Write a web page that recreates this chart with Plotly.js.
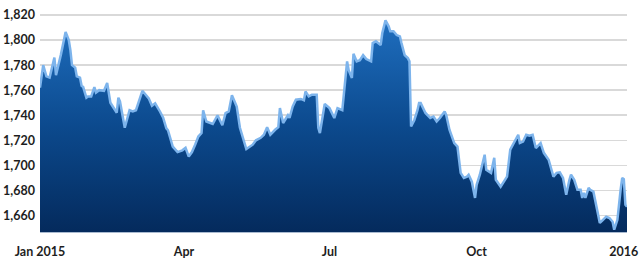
<!DOCTYPE html>
<html>
<head>
<meta charset="utf-8">
<script src="https://cdn.plot.ly/plotly-3.0.1.min.js"></script>
<style>html,body{margin:0;padding:0;background:#fff;}#chart{width:640px;height:264px;}</style>
</head>
<body>
<div id="chart"></div>
<script>
const dates = [
"2015-01-01","2015-01-03","2015-01-05","2015-01-07","2015-01-10","2015-01-11","2015-01-14","2015-01-15","2015-01-17","2015-01-19",
"2015-01-20","2015-01-21","2015-01-23","2015-01-24","2015-01-26","2015-01-27","2015-01-28","2015-01-30","2015-01-31","2015-02-02",
"2015-02-04","2015-02-05","2015-02-07","2015-02-10","2015-02-12","2015-02-14","2015-02-17","2015-02-18","2015-02-19","2015-02-20",
"2015-02-23","2015-02-26","2015-02-28","2015-03-02","2015-03-06","2015-03-08","2015-03-10","2015-03-12","2015-03-14","2015-03-17",
"2015-03-19","2015-03-21","2015-03-22","2015-03-25","2015-03-28","2015-03-31","2015-04-02","2015-04-04","2015-04-06","2015-04-08",
"2015-04-10","2015-04-12","2015-04-13","2015-04-15","2015-04-19","2015-04-22","2015-04-25","2015-04-27","2015-04-29","2015-05-01",
"2015-05-04","2015-05-06","2015-05-10","2015-05-14","2015-05-16","2015-05-19","2015-05-21","2015-05-23","2015-05-25","2015-05-28",
"2015-05-30","2015-05-31","2015-06-02","2015-06-05","2015-06-06","2015-06-08","2015-06-10","2015-06-13","2015-06-15","2015-06-16",
"2015-06-18","2015-06-20","2015-06-23","2015-06-24","2015-06-25","2015-06-28","2015-07-01","2015-07-04","2015-07-06","2015-07-09",
"2015-07-11","2015-07-12","2015-07-13","2015-07-15","2015-07-16","2015-07-18","2015-07-20","2015-07-22","2015-07-24","2015-07-27",
"2015-07-28","2015-07-30","2015-08-02","2015-08-03","2015-08-05","2015-08-07","2015-08-08","2015-08-10","2015-08-12","2015-08-14",
"2015-08-15","2015-08-17","2015-08-19","2015-08-20","2015-08-21","2015-08-23","2015-08-25","2015-08-26","2015-08-27","2015-08-30",
"2015-09-02","2015-09-04","2015-09-06","2015-09-08","2015-09-11","2015-09-12","2015-09-14","2015-09-15","2015-09-17","2015-09-19",
"2015-09-21","2015-09-23","2015-09-25","2015-09-26","2015-09-28","2015-09-30","2015-10-01","2015-10-03","2015-10-06","2015-10-07",
"2015-10-09","2015-10-10","2015-10-12","2015-10-13","2015-10-16","2015-10-18","2015-10-20","2015-10-22","2015-10-24","2015-10-27",
"2015-10-28","2015-10-30","2015-11-01","2015-11-03","2015-11-05","2015-11-07","2015-11-10","2015-11-12","2015-11-15","2015-11-18",
"2015-11-20","2015-11-22","2015-11-24","2015-11-26","2015-11-28","2015-11-29","2015-12-01","2015-12-03","2015-12-05","2015-12-06",
"2015-12-07","2015-12-08","2015-12-10","2015-12-11","2015-12-13","2015-12-15","2015-12-17","2015-12-19","2015-12-21","2015-12-23",
"2015-12-25","2015-12-26","2015-12-28","2015-12-30","2015-12-31","2016-01-01","2016-01-02","2016-01-03"
];
const values = [
1762,1780,1771,1770,1786,1772,1788,1795,1806.5,1800,
1792,1780,1778,1771,1770,1763.5,1762.5,1754,1755,1755,
1762.5,1758,1760,1759.5,1765.7,1750,1744,1742,1754,1751,
1730,1744,1743,1744,1759.5,1756,1753.5,1747.6,1749.5,1743,
1738,1729.5,1728,1715,1710.6,1712,1714,1707,1710.6,1716.5,
1723,1725.8,1744,1735,1733,1740,1732,1741.7,1743,1756,
1747,1730,1713,1716.5,1720,1722,1724.4,1730.5,1724.4,1728.4,
1730.5,1745.7,1733.8,1740,1737.8,1747,1752.4,1753,1752,1759,
1755,1756.4,1756.4,1730,1725.8,1749,1745.7,1737.8,1745.7,1744,
1768.3,1783,1776,1769.7,1789,1783,1784,1788,1784.8,1783,
1797.6,1799,1796,1805.6,1815.7,1811,1807,1807,1804,1803,
1797.6,1788,1785.6,1783,1731,1736,1744,1749.7,1749.7,1741.8,
1737.8,1739,1735,1737.8,1743,1740,1728.4,1724.4,1717.8,1715,
1694,1690,1691,1692.5,1687,1674,1684.5,1692.5,1708.5,1696.5,
1695,1694,1706,1688.5,1683,1687,1691,1712.5,1717.8,1724.4,
1717.8,1719,1724.4,1723.6,1724.4,1713.8,1717.8,1710,1704.5,1691,
1694,1694.4,1690,1676.5,1688.5,1692.5,1688.5,1680.5,1680.5,1674,
1678,1674,1682,1680.5,1679,1666,1654,1656.5,1659,1658,
1655,1648.6,1656.5,1680.5,1690,1689,1668.5,1667
];
const xTickVals = ["2015-01-01","2015-04-01","2015-07-01","2015-10-01","2016-01-01"];
const xTickText = ["Jan 2015","Apr","Jul","Oct","2016"];
const yTickVals = [1660,1680,1700,1720,1740,1760,1780,1800,1820];

const trace = {
  x: dates, y: values, type: 'scatter', mode: 'lines',
  line: {color: '#7db4ec', width: 2.5},
  fill: 'tozeroy',
  fillgradient: {type: 'vertical', start: 1646, stop: 1818,
    colorscale: [[0, '#042a5c'], [0.5, '#0c4a8e'], [1, '#1f6fc0']]},
  hoverinfo: 'skip'
};
const font = {family: 'Lato, "Open Sans", sans-serif', size: 12.5, color: '#1e1e1e', weight: 700};
const layout = {
  width: 640, height: 264,
  margin: {l: 40, r: 13, t: 8, b: 32},
  paper_bgcolor: '#fff', plot_bgcolor: '#fff',
  showlegend: false,
  xaxis: {type: 'date', range: ['2015-01-01', '2016-01-03'],
    tickvals: xTickVals, ticktext: xTickText, showgrid: false,
    showline: true, linecolor: '#a9bad0', linewidth: 1,
    ticks: '', tickfont: font, ticklabelstandoff: 8, zeroline: false},
  yaxis: {range: [1646.8, 1825.6], tickvals: yTickVals, tickformat: ',d',
    showgrid: true, gridcolor: '#d9d9d9', gridwidth: 1.5,
    showline: false, zeroline: false, ticks: '', tickfont: font, ticklabelstandoff: 4}
};
Plotly.newPlot('chart', [trace], layout, {staticPlot: true, displayModeBar: false});
</script>
</body>
</html>
